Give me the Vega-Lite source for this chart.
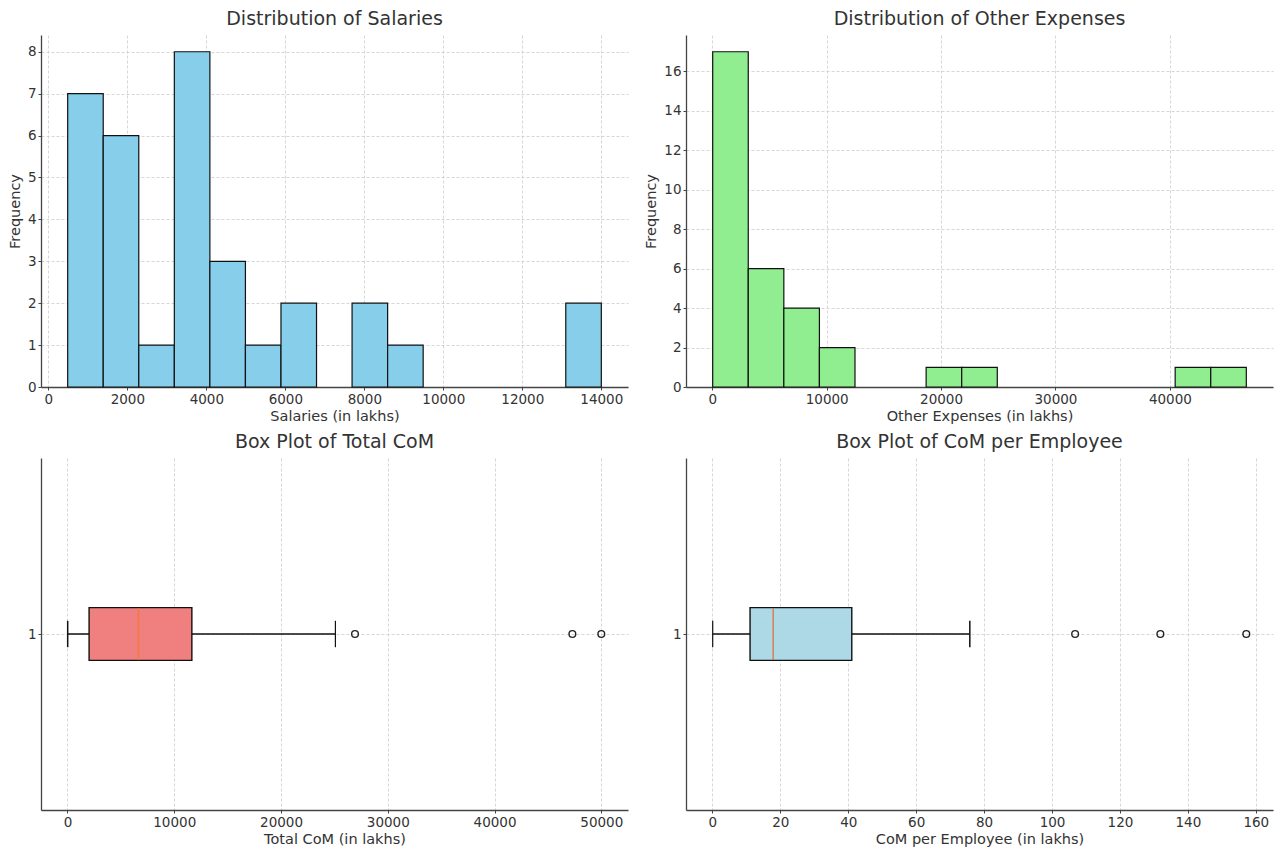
{
  "$schema": "https://vega.github.io/schema/vega-lite/v6.json",
  "padding": {"left": 7, "top": 10, "right": 3, "bottom": 2},
  "columns": 2,
  "spacing": {"column": 58, "row": 71},
  "bounds": "flush",
  "background": "white",
  "datasets": {
    "sal": [
      {"start": 490, "end": 1390, "count": 7},
      {"start": 1390, "end": 2290, "count": 6},
      {"start": 2290, "end": 3190, "count": 1},
      {"start": 3190, "end": 4090, "count": 8},
      {"start": 4090, "end": 4990, "count": 3},
      {"start": 4990, "end": 5890, "count": 1},
      {"start": 5890, "end": 6790, "count": 2},
      {"start": 7690, "end": 8590, "count": 2},
      {"start": 8590, "end": 9490, "count": 1},
      {"start": 13100, "end": 14000, "count": 2}
    ],
    "oth": [
      {"start": 35, "end": 3145, "count": 17},
      {"start": 3145, "end": 6255, "count": 6},
      {"start": 6255, "end": 9365, "count": 4},
      {"start": 9365, "end": 12475, "count": 2},
      {"start": 18695, "end": 21805, "count": 1},
      {"start": 21805, "end": 24915, "count": 1},
      {"start": 40465, "end": 43575, "count": 1},
      {"start": 43575, "end": 46685, "count": 1}
    ],
    "box1": [{"lower": 20, "q1": 2024, "median": 6646, "q3": 11650, "upper": 25095}],
    "out1": [{"value": 26930}, {"value": 47290}, {"value": 50000}],
    "box2": [{"lower": 0.1, "q1": 11.1, "median": 17.9, "q3": 41.05, "upper": 75.8}],
    "out2": [{"value": 106.8}, {"value": 131.9}, {"value": 157.2}]
  },
  "config": {
    "font": "DejaVu Sans",
    "view": {"stroke": null},
    "title": {"font": "DejaVu Sans", "fontSize": 19, "fontWeight": "normal", "color": "#333333", "offset": 6},
    "axis": {
      "labelFont": "DejaVu Sans", "labelFontSize": 13.5, "labelColor": "#333333",
      "titleFont": "DejaVu Sans", "titleFontSize": 14.5, "titleFontWeight": "normal", "titleColor": "#333333",
      "domainColor": "#444444", "domainWidth": 1.3,
      "tickColor": "#444444", "tickSize": 3, "tickWidth": 1,
      "gridColor": "#cccccc", "gridDash": [3, 2], "gridWidth": 0.8,
      "labelPadding": 2, "titlePadding": 4, "labelFlush": false, "labelOverlap": false
    },
    "axisY": {"titlePadding": 5}
  },
  "concat": [
    {
      "width": 587, "height": 352,
      "title": "Distribution of Salaries",
      "data": {"name": "sal"},
      "mark": {"type": "bar", "fill": "#87CEEB", "stroke": "#111111", "strokeWidth": 1.2},
      "encoding": {
        "x": {"field": "start", "type": "quantitative", "scale": {"domain": [-185.5, 14675.5], "nice": false, "zero": false},
              "axis": {"values": [0, 2000, 4000, 6000, 8000, 10000, 12000, 14000], "format": "d", "title": "Salaries (in lakhs)", "grid": true}},
        "x2": {"field": "end"},
        "y": {"field": "count", "type": "quantitative", "scale": {"domain": [0, 8.4], "nice": false},
              "axis": {"values": [0, 1, 2, 3, 4, 5, 6, 7, 8], "title": "Frequency", "grid": true}},
        "y2": {"datum": 0}
      }
    },
    {
      "width": 587, "height": 352,
      "title": "Distribution of Other Expenses",
      "data": {"name": "oth"},
      "mark": {"type": "bar", "fill": "#90EE90", "stroke": "#111111", "strokeWidth": 1.2},
      "encoding": {
        "x": {"field": "start", "type": "quantitative", "scale": {"domain": [-2298, 49018], "nice": false, "zero": false},
              "axis": {"values": [0, 10000, 20000, 30000, 40000], "format": "d", "title": "Other Expenses (in lakhs)", "grid": true}},
        "x2": {"field": "end"},
        "y": {"field": "count", "type": "quantitative", "scale": {"domain": [0, 17.85], "nice": false},
              "axis": {"values": [0, 2, 4, 6, 8, 10, 12, 14, 16], "title": "Frequency", "grid": true}},
        "y2": {"datum": 0}
      }
    },
    {
      "width": 587, "height": 352,
      "title": "Box Plot of Total CoM",
      "layer": [
        {
          "data": {"name": "box1"},
          "mark": {"type": "rule", "color": "#111111", "strokeWidth": 1.5},
          "encoding": {
            "x": {"field": "lower", "type": "quantitative", "scale": {"domain": [-2480, 52500], "nice": false, "zero": false},
                  "axis": {"values": [0, 10000, 20000, 30000, 40000, 50000], "format": "d", "title": "Total CoM (in lakhs)", "grid": true}},
            "x2": {"field": "q1"},
            "y": {"datum": 1, "type": "quantitative", "scale": {"domain": [0.5, 1.5], "nice": false, "zero": false},
                  "axis": {"values": [1], "format": "d", "title": null, "grid": true}}
          }
        },
        {
          "data": {"name": "box1"},
          "mark": {"type": "rule", "color": "#111111", "strokeWidth": 1.5},
          "encoding": {"x": {"field": "q3", "type": "quantitative"}, "x2": {"field": "upper"}, "y": {"datum": 1, "type": "quantitative"}}
        },
        {
          "data": {"name": "box1"},
          "mark": {"type": "rule", "color": "#111111", "strokeWidth": 1.5},
          "encoding": {"x": {"field": "lower", "type": "quantitative"}, "y": {"datum": 0.9625, "type": "quantitative"}, "y2": {"datum": 1.0375}}
        },
        {
          "data": {"name": "box1"},
          "mark": {"type": "rule", "color": "#111111", "strokeWidth": 1.2},
          "encoding": {"x": {"field": "upper", "type": "quantitative"}, "y": {"datum": 0.9625, "type": "quantitative"}, "y2": {"datum": 1.0375}}
        },
        {
          "data": {"name": "box1"},
          "mark": {"type": "rect", "fill": "#F08080", "stroke": "#111111", "strokeWidth": 1.4},
          "encoding": {"x": {"field": "q1", "type": "quantitative"}, "x2": {"field": "q3"}, "y": {"datum": 0.925, "type": "quantitative"}, "y2": {"datum": 1.075}}
        },
        {
          "data": {"name": "box1"},
          "mark": {"type": "rule", "color": "#F47A3C", "strokeWidth": 1.6},
          "encoding": {"x": {"field": "median", "type": "quantitative"}, "y": {"datum": 0.9265, "type": "quantitative"}, "y2": {"datum": 1.0735}}
        },
        {
          "data": {"name": "out1"},
          "mark": {"type": "point", "shape": "circle", "filled": false, "stroke": "#222222", "strokeWidth": 1.4, "size": 45, "opacity": 1},
          "encoding": {"x": {"field": "value", "type": "quantitative"}, "y": {"datum": 1, "type": "quantitative"}}
        }
      ]
    },
    {
      "width": 587, "height": 352,
      "title": "Box Plot of CoM per Employee",
      "layer": [
        {
          "data": {"name": "box2"},
          "mark": {"type": "rule", "color": "#111111", "strokeWidth": 1.5},
          "encoding": {
            "x": {"field": "lower", "type": "quantitative", "scale": {"domain": [-7.76, 165.06], "nice": false, "zero": false},
                  "axis": {"values": [0, 20, 40, 60, 80, 100, 120, 140, 160], "format": "d", "title": "CoM per Employee (in lakhs)", "grid": true}},
            "x2": {"field": "q1"},
            "y": {"datum": 1, "type": "quantitative", "scale": {"domain": [0.5, 1.5], "nice": false, "zero": false},
                  "axis": {"values": [1], "format": "d", "title": null, "grid": true}}
          }
        },
        {
          "data": {"name": "box2"},
          "mark": {"type": "rule", "color": "#111111", "strokeWidth": 1.5},
          "encoding": {"x": {"field": "q3", "type": "quantitative"}, "x2": {"field": "upper"}, "y": {"datum": 1, "type": "quantitative"}}
        },
        {
          "data": {"name": "box2"},
          "mark": {"type": "rule", "color": "#111111", "strokeWidth": 1.2},
          "encoding": {"x": {"field": "lower", "type": "quantitative"}, "y": {"datum": 0.9625, "type": "quantitative"}, "y2": {"datum": 1.0375}}
        },
        {
          "data": {"name": "box2"},
          "mark": {"type": "rule", "color": "#111111", "strokeWidth": 1.5},
          "encoding": {"x": {"field": "upper", "type": "quantitative"}, "y": {"datum": 0.9625, "type": "quantitative"}, "y2": {"datum": 1.0375}}
        },
        {
          "data": {"name": "box2"},
          "mark": {"type": "rect", "fill": "#ADD8E6", "stroke": "#111111", "strokeWidth": 1.4},
          "encoding": {"x": {"field": "q1", "type": "quantitative"}, "x2": {"field": "q3"}, "y": {"datum": 0.925, "type": "quantitative"}, "y2": {"datum": 1.075}}
        },
        {
          "data": {"name": "box2"},
          "mark": {"type": "rule", "color": "#E8682A", "strokeWidth": 1.2},
          "encoding": {"x": {"field": "median", "type": "quantitative"}, "y": {"datum": 0.9265, "type": "quantitative"}, "y2": {"datum": 1.0735}}
        },
        {
          "data": {"name": "out2"},
          "mark": {"type": "point", "shape": "circle", "filled": false, "stroke": "#222222", "strokeWidth": 1.4, "size": 45, "opacity": 1},
          "encoding": {"x": {"field": "value", "type": "quantitative"}, "y": {"datum": 1, "type": "quantitative"}}
        }
      ]
    }
  ]
}
